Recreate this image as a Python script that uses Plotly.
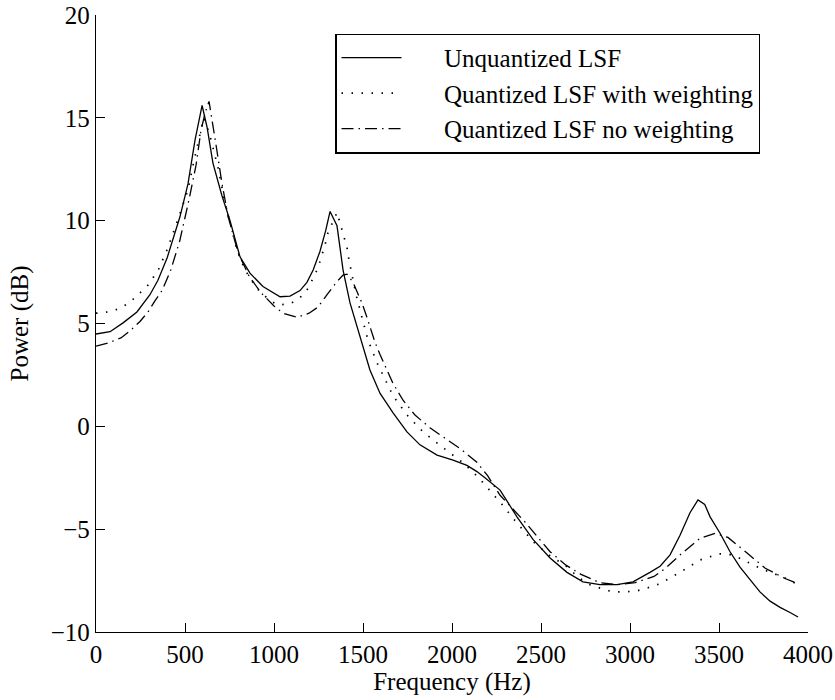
import plotly.graph_objects as go

# Unquantized LSF (solid)
f_unq = [0, 79, 152, 230, 303, 348, 400, 472, 517, 556, 596, 624, 657, 708, 753, 809, 865, 938,
         1034, 1090, 1146, 1185, 1220, 1258, 1290, 1315, 1354, 1388, 1427, 1483, 1539, 1596, 1669, 1747,
         1820, 1916, 2006, 2084, 2140, 2185, 2270, 2365, 2455, 2551, 2646, 2736, 2831, 2927, 3017,
         3112, 3169, 3225, 3281, 3337, 3382, 3420, 3450, 3506, 3562, 3618, 3674, 3730, 3787, 3843,
         3899, 3944]
p_unq = [4.49, 4.6, 5.03, 5.56, 6.4, 7.1, 8.2, 10.2, 11.8, 13.9, 15.6, 14.55, 12.8, 11.2, 10.0, 8.24,
         7.45, 6.8, 6.3, 6.33, 6.6, 7.0, 7.6, 8.5, 9.5, 10.45, 9.75, 7.6, 6.0, 4.35, 2.74, 1.6, 0.65, -0.27,
         -0.9, -1.4, -1.64, -1.9, -2.2, -2.5, -3.1, -4.4, -5.5, -6.4, -7.1, -7.56, -7.7, -7.7, -7.56,
         -7.1, -6.8, -6.25, -5.3, -4.2, -3.58, -3.8, -4.4, -5.2, -6.1, -6.85, -7.45, -8.05, -8.5, -8.8,
         -9.05, -9.27]

# Quantized LSF with weighting (dotted)
f_w = [0, 62, 124, 185, 236, 287, 350, 400, 450, 517, 545, 573, 605, 635, 685, 725, 792, 837, 904,
       966, 1017, 1090, 1146, 1191, 1219, 1247, 1286, 1303, 1354, 1371, 1393, 1410, 1421, 1433, 1461,
       1494, 1528, 1578, 1668, 1747, 1837, 1944, 2056, 2146, 2281, 2365, 2455, 2551, 2635, 2719, 2775,
       2843, 2904, 2972, 3039, 3101, 3169, 3281, 3393, 3500, 3550, 3601, 3657, 3719, 3787, 3854, 3944]
p_w = [5.5, 5.56, 5.7, 6.0, 6.4, 6.8, 7.6, 8.6, 9.8, 11.5, 12.7, 13.8, 15.0, 14.3, 12.6, 10.85, 8.57,
       7.6, 6.7, 6.2, 5.9, 5.95, 6.25, 6.7, 7.2, 7.7, 8.8, 9.4, 10.4, 9.9, 9.25, 8.7, 8.1, 7.55, 6.4,
       5.3, 4.2, 3.1, 1.5, 0.55, -0.27, -1.0, -1.73, -2.46, -3.8, -4.7, -5.6, -6.3, -6.75, -7.4, -7.7,
       -7.9, -8.05, -8.05, -8.0, -7.85, -7.65, -7.1, -6.5, -6.2, -6.2, -6.35, -6.6, -6.85, -7.1, -7.3,
       -7.7]

# Quantized LSF no weighting (dash-dot)
f_nw = [0, 67, 140, 191, 247, 292, 331, 371, 420, 470, 522, 562, 590, 615, 635, 655, 674, 708, 742,
        800, 860, 927, 1000, 1051, 1129, 1197, 1247, 1298, 1350, 1388, 1410, 1444, 1494, 1522, 1567,
        1595, 1668, 1725, 1792, 1876, 1966, 2056, 2140, 2200, 2270, 2410, 2551, 2640, 2725, 2830, 2927,
        3030, 3135, 3200, 3281, 3393, 3478, 3550, 3656, 3760, 3871, 3944]
p_nw = [3.9, 4.05, 4.3, 4.64, 5.1, 5.56, 6.1, 6.6, 7.6, 9.0, 11.0, 12.7, 14.4, 15.3, 15.8, 14.8, 13.7,
        11.8, 10.2, 8.4, 7.3, 6.5, 5.85, 5.5, 5.3, 5.5, 5.8, 6.4, 7.0, 7.35, 7.4, 7.0, 6.0, 5.3, 4.1,
        3.5, 2.1, 1.27, 0.55, -0.07, -0.6, -1.15, -1.75, -2.4, -3.35, -4.65, -6.1, -6.75, -7.2, -7.6,
        -7.7, -7.6, -7.3, -6.9, -6.25, -5.45, -5.2, -5.4, -6.15, -6.9, -7.4, -7.65]

x_ticks = [0, 500, 1000, 1500, 2000, 2500, 3000, 3500, 4000]
y_ticks = [-10, -5, 0, 5, 10, 15, 20]

FONT = "Liberation Serif, Times New Roman, serif"
PAD = "\u00a0" * 6

fig = go.Figure()
fig.add_trace(go.Scatter(x=f_unq, y=p_unq, mode="lines", name=PAD + "Unquantized LSF",
                         line=dict(color="black", width=1.3)))
fig.add_trace(go.Scatter(x=f_w, y=p_w, mode="lines", name=PAD + "Quantized LSF with weighting",
                         line=dict(color="black", width=1.7, dash="1.5px,8.5px")))
fig.add_trace(go.Scatter(x=f_nw, y=p_nw, mode="lines", name=PAD + "Quantized LSF no weighting",
                         line=dict(color="black", width=1.3, dash="12px,5px,1.5px,5px")))

fig.update_layout(
    width=835, height=700,
    margin=dict(l=96, r=27, t=15, b=68),
    plot_bgcolor="white", paper_bgcolor="white",
    font=dict(family=FONT, size=25, color="black"),
    showlegend=True,
    legend=dict(x=0.336, y=0.97, xanchor="left", yanchor="top",
                bgcolor="white", bordercolor="black", borderwidth=1.3,
                font=dict(family=FONT, size=25, color="black"),
                itemwidth=60, tracegroupgap=0),
    xaxis=dict(range=[0, 4000], tickvals=x_ticks, showline=True, linecolor="black", linewidth=1.3,
               ticks="inside", ticklen=9, tickcolor="black", showgrid=False, zeroline=False,
               automargin=False,
               title=dict(text="Frequency (Hz)", standoff=2, font=dict(family=FONT, size=25))),
    yaxis=dict(range=[-10, 20], tickvals=y_ticks, showline=True, linecolor="black", linewidth=1.3,
               ticks="inside", ticklen=9, tickcolor="black", showgrid=False, zeroline=False,
               automargin=False,
               title=dict(text="Power (dB)", standoff=14, font=dict(family=FONT, size=25))),
)

fig.write_html("out.html")
